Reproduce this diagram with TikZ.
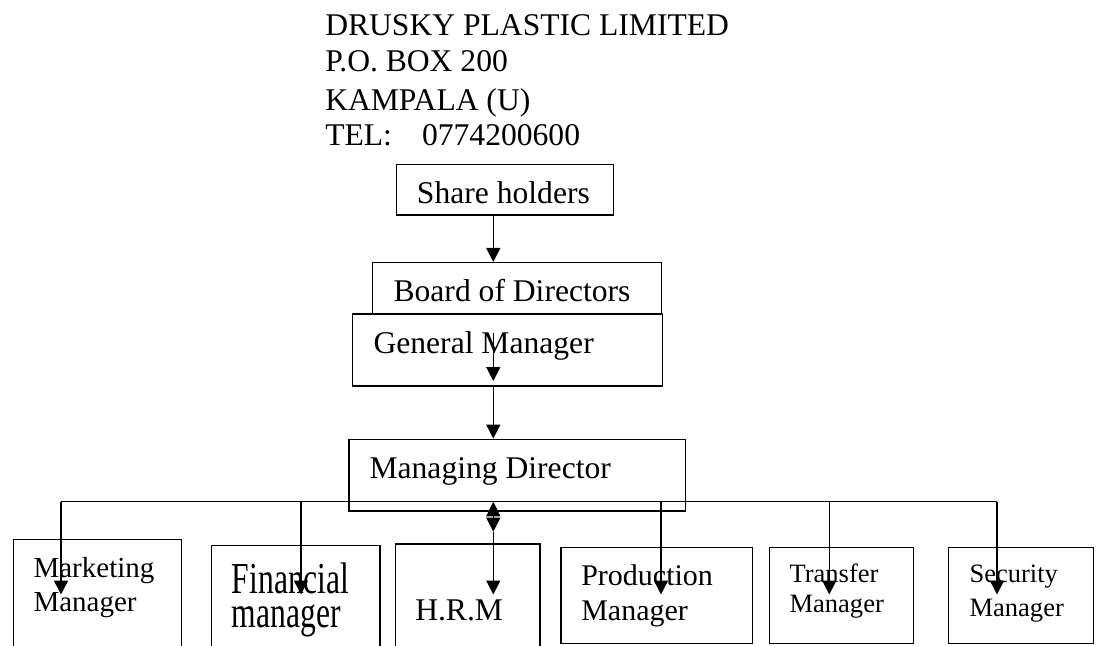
\documentclass[tikz,border=0pt]{standalone}
\usepackage{fontspec}
\setmainfont{Liberation Serif}
\usepackage{graphicx}
\usetikzlibrary{arrows.meta}
\usetikzlibrary{positioning,fit}

\begin{document}
\begin{tikzpicture}[%
        x=0.75pt, y=-0.75pt,
        box/.style={draw, rectangle, inner sep=0pt, line width=1.1pt},
        arr/.style={-{Triangle[width=10.5pt,length=10.5pt]}, line width=1.1pt},
        twoway/.style={{Triangle[width=10.5pt,length=11pt]}-{Triangle[width=10.5pt,length=10.5pt]}, line width=1.1pt},
        txt/.style={anchor=base west, inner sep=0pt, font=\fontsize{23.7}{28}\selectfont},
        midtxt/.style={txt, font=\fontsize{22.5}{26}\selectfont},
        smalltxt/.style={txt, font=\fontsize{21.75}{25}\selectfont},
        tinytxt/.style={txt, font=\fontsize{19.9}{24}\selectfont}
      ]
      \useasboundingbox (0,0) rectangle (1096,646);
      \clip (0,0) rectangle (1096,646);
      % letter head
      \node [txt] (firm) at (325,35) {DRUSKY PLASTIC LIMITED};
      \node [txt] (pobox) at (325,71.7) {P.O. BOX 200};
      \node [txt] (town) at (325,110) {KAMPALA (U)};
      \node [txt] (tel) at (325,145) {TEL:\hspace{22.6pt}0774200600};
      % boxes
      \node [box, fit={(396.7,164.3) (613.3,215)}] (share) {};
      \node [box, fit={(372.7,262.7) (661.7,314)}] (board) {};
      \node [box, fit={(352.7,314) (662.7,386)}] (gm) {};
      \node [box, fit={(349,439.3) (685.7,511)}] (md) {};
      \node [box, fit={(13.3,539.3) (181.7,670)}] (mkt) {};
      \node [box, fit={(211.7,545.3) (380,670)}] (fin) {};
      \node [box, fit={(395.7,544) (540,670)}] (hrm) {};
      \node [box, fit={(561,547.3) (752.7,643.3)}] (prod) {};
      \node [box, fit={(769.3,547.3) (913.3,643.3)}] (tra) {};
      \node [box, fit={(948.7,547.3) (1093.7,643.3)}] (sec) {};
      % texts
      \node [txt] (sharetxt) at (416.7,203.3) {Share holders};
      \node [txt] (boardtxt) at (393.3,301.7) {Board of Directors};
      \node [txt] (gmtxt) at (373.3,353.3) {General Manager};
      \node [txt] (mdtxt) at (369.3,478.3) {Managing Director};
      \node [smalltxt] (mkttxt) at (33.3,577.7) {Marketing};
      \node [smalltxt] (mkttxt2) at (33.3,611) {Manager};
      \node [txt] (fintxt) at (231.7,593.3) {\scalebox{1}[1.4]{Financial}};
      \node [txt] (fintxt2) at (231.7,627.3) {\scalebox{1}[1.4]{manager}};
      \node [txt] (hrmtxt) at (415,620) {H.R.M};
      \node [midtxt] (prodtxt) at (581,585) {Production};
      \node [midtxt] (prodtxt2) at (581,620) {Manager};
      \node [tinytxt] (tratxt) at (789.3,582.3) {Transfer};
      \node [tinytxt] (tratxt2) at (789.3,612.7) {Manager};
      \node [tinytxt] (sectxt) at (969.3,582.3) {Security};
      \node [tinytxt] (sectxt2) at (969.3,616) {Manager};
      % connector points
      \coordinate (spine) at (493.3,0);
      \coordinate (gmin) at (493.3,333.3);
      \coordinate (gmtip) at (493.3,381);
      \coordinate (tipline) at (0,594.5);
      \coordinate (hrmmid) at (493.3,531.7);
      \coordinate (bmkt) at (61,501.7);
      \coordinate (bfin) at (301,501.7);
      \coordinate (bhrm) at (493.3,501.7);
      \coordinate (bprod) at (661,501.7);
      \coordinate (btra) at (829.3,501.7);
      \coordinate (bsec) at (997,501.7);
      \path [draw] (spine |- share.south) edge[arr] (spine |- board.north)
      (gmin) edge[arr] (gmtip)
      (spine |- gm.south) edge[arr] (spine |- md.north);
      \draw[line width=1.1pt] (bmkt) -- (bsec);
      \foreach \b in {bmkt,bfin,bprod,btra,bsec}
        \draw[arr] (\b) -- (\b |- tipline);
      \draw[twoway] (bhrm) -- (hrmmid);
      \draw[arr] (hrmmid) -- (hrmmid |- tipline);
    \end{tikzpicture}
\end{document}
